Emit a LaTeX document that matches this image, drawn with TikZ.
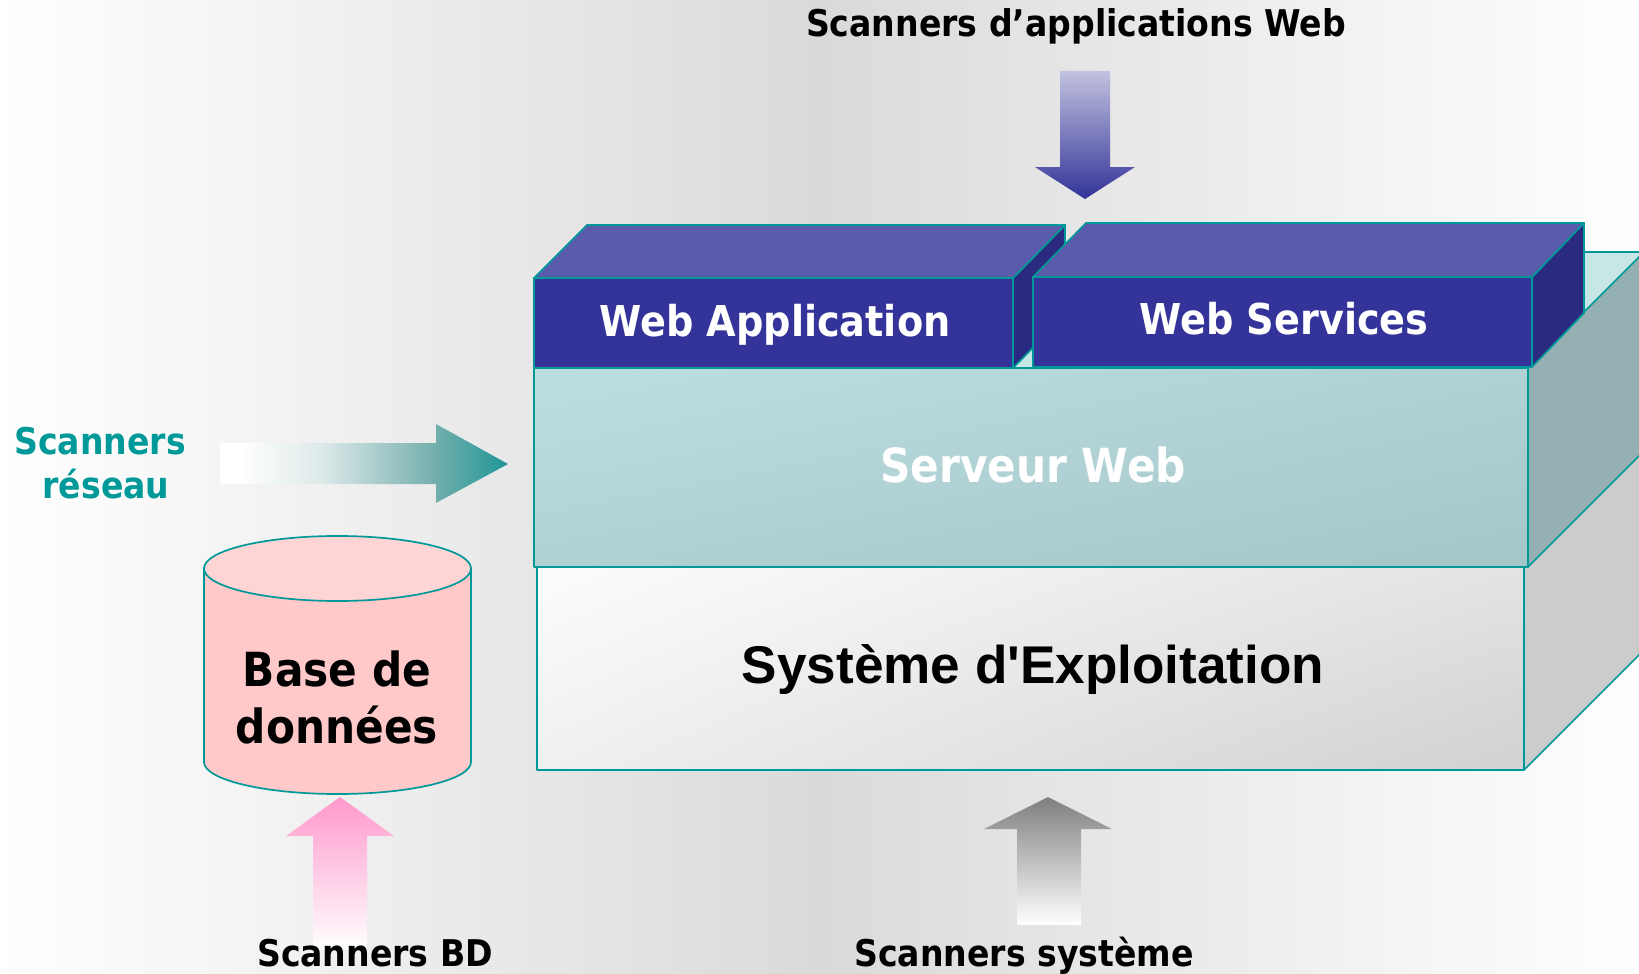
\documentclass[tikz,border=0pt]{standalone}
\usepackage{fontspec}
\newfontfamily\labelfont{DejaVu Sans Condensed}
\newfontfamily\osfont{Liberation Sans}
\usetikzlibrary{shadings}
\newcommand\pageheight{974pt}
\newcommand\pagewidth{1639pt}
\newcommand\serverleft{534pt}
\newcommand\serverright{1528pt}
\newcommand\servertop{368pt}
\newcommand\serverbottom{567pt}
\newcommand\osleft{537pt}
\newcommand\osright{1524pt}
\newcommand\osbottom{770pt}
\newcommand\layerdepth{116pt}
\definecolor{boxline}{HTML}{009999}
\definecolor{bluefront}{HTML}{333399}
\definecolor{bluetop}{HTML}{5B5BAB}
\definecolor{blueside}{HTML}{2A2A80}
\definecolor{arrowpink}{HTML}{FF99CC}
\definecolor{arrowteal}{HTML}{1F9796}
\definecolor{tealpale}{HTML}{DDE9E9}
\definecolor{tealgrey}{HTML}{72AEAC}
\definecolor{cylbody}{HTML}{FFC9C9}
\definecolor{cyltop}{HTML}{FFD4D4}
\definecolor{servertopface}{HTML}{C7E6E6}
\definecolor{serverside}{HTML}{95B0B3}
\definecolor{serverTL}{HTML}{BBDFE1}
\definecolor{serverMID}{HTML}{B0D2D5}
\definecolor{serverBR}{HTML}{A5C6C9}
\pgfdeclarehorizontalshading{tealfade}{100bp}{color(0bp)=(white); color(28.5bp)=(white); color(42.7bp)=(tealpale); color(62.5bp)=(tealgrey); color(75bp)=(arrowteal); color(100bp)=(arrowteal)}
\tikzset{
	layer/.style = {draw = boxline, line width = 1.7pt, line join = round},
	caption/.style = {anchor = base, font = \labelfont\bfseries\fontsize{36.8pt}{37pt}\selectfont, inner sep = 0pt},
	title/.style = {anchor = base, font = \labelfont\bfseries\fontsize{42.5pt}{43pt}\selectfont, inner sep = 0pt, text = white},
	bigtitle/.style = {anchor = base, font = \labelfont\bfseries\fontsize{47pt}{47pt}\selectfont, inner sep = 0pt}
}

\begin{document}
\begin{tikzpicture}[yscale = -1]
	\path [use as bounding box, clip] (0pt, 0pt) rectangle (\pagewidth, \pageheight);
	\shade [left color = white, right color = white, middle color = black!14.5] (0pt, 0pt) rectangle (\pagewidth, \pageheight);

	% Systeme
	\fill [black!20] (\osright, \osbottom) -- +(\layerdepth, -\layerdepth) -- +(\layerdepth, -320pt) -- (\osright, \serverbottom) -- cycle;
	\draw [layer] (\osright, \osbottom) -- +(\layerdepth, -\layerdepth);
	\shade [layer, upper left = black!1, upper right = black!11, lower left = black!6, lower right = black!18]
		(\osleft, \serverbottom) rectangle (\osright, \osbottom);

	% Serveur
	\filldraw [layer, fill = servertopface] (\serverleft, \servertop) -- +(\layerdepth, -\layerdepth) -- (1700pt, 252pt) -- (\serverright, \servertop) -- cycle;
	\filldraw [layer, fill = serverside] (\serverright, \servertop) -- +(\layerdepth, -\layerdepth) -- +(\layerdepth, 83pt) -- (\serverright, \serverbottom) -- cycle;
	\shade [layer, upper left = serverTL, upper right = serverMID, lower left = serverMID, lower right = serverBR]
		(\serverleft, \servertop) rectangle (\serverright, \serverbottom);

	% Web Application
	\filldraw [layer, fill = blueside] (1013pt, 278pt) -- (1065pt, 225pt) -- (1065pt, 315pt) -- (1013pt, 368pt) -- cycle;
	\filldraw [layer, fill = bluetop] (\serverleft, 278pt) -- (587pt, 225pt) -- (1065pt, 225pt) -- (1013pt, 278pt) -- cycle;
	\filldraw [layer, fill = bluefront] (\serverleft, 278pt) rectangle (1013pt, \servertop);

	% Web Services
	\filldraw [layer, fill = blueside] (1532pt, 277pt) -- (1584pt, 223pt) -- (1584pt, 313pt) -- (1532pt, 367pt) -- cycle;
	\filldraw [layer, fill = bluetop] (1033pt, 277pt) -- (1086pt, 223pt) -- (1584pt, 223pt) -- (1532pt, 277pt) -- cycle;
	\filldraw [layer, fill = bluefront] (1033pt, 277pt) rectangle (1532pt, 367pt);

	% Base de donnees
	\begin{scope}[layer]
		\filldraw [fill = cylbody] (204pt, 568pt) -- (204pt, 762pt) arc [start angle = 180, end angle = 360, x radius = 133.5pt, y radius = -32pt] -- (471pt, 568pt) -- cycle;
		\filldraw [fill = cyltop] (337.5pt, 568.5pt) ellipse [x radius = 133.5pt, y radius = 32.5pt];
	\end{scope}

	% Fleches
	\shade [shading = tealfade]
		(220pt, 443pt) -- (436pt, 443pt) -- (436pt, 424pt) -- (508pt, 464pt) -- (436pt, 503pt) -- (436pt, 484pt) -- (220pt, 484pt) -- cycle;
	\shade [top color = arrowpink, bottom color = white]
		(340pt, 797pt) -- (394pt, 836pt) -- (367pt, 836pt) -- (367pt, 950pt) -- (313pt, 950pt) -- (313pt, 836pt) -- (286pt, 836pt) -- cycle;
	\shade [top color = bluefront!30!white, bottom color = bluefront]
		(1060pt, 71pt) -- (1110pt, 71pt) -- (1110pt, 167pt) -- (1135pt, 167pt) -- (1085pt, 199pt) -- (1035pt, 167pt) -- (1060pt, 167pt) -- cycle;
	\shade [top color = black!50, bottom color = white]
		(1048pt, 797pt) -- (1112pt, 829pt) -- (1081pt, 829pt) -- (1081pt, 925pt) -- (1017pt, 925pt) -- (1017pt, 829pt) -- (984pt, 829pt) -- cycle;

	% Texte
	\node [title] (webapp) at (775pt, 336pt) {Web Application};
	\node [title] (webservices) at (1284pt, 334pt) {Web Services};
	\node [bigtitle, text = white] (serveur) at (1033pt, 482pt) {Serveur Web};
	\node [anchor = base, inner sep = 0pt, font = \osfont\bfseries\fontsize{53.1pt}{54pt}\selectfont] (systeme) at (1033pt, 683pt) {Système d'Exploitation};
	\node [bigtitle] (base) at (337pt, 686pt) {Base de};
	\node [bigtitle] (donnees) at (337pt, 743pt) {données};
	\node [caption] (scanweb) at (1076pt, 37pt) {Scanners d’applications Web};
	\node [caption, text = boxline] (scanres) at (100pt, 454pt) {Scanners};
	\node [caption, text = boxline] (scanres2) at (106pt, 498pt) {réseau};
	\node [caption] (scanbd) at (375pt, 966pt) {Scanners BD};
	\node [caption] (scansys) at (1024pt, 966pt) {Scanners système};
\end{tikzpicture}
\end{document}
